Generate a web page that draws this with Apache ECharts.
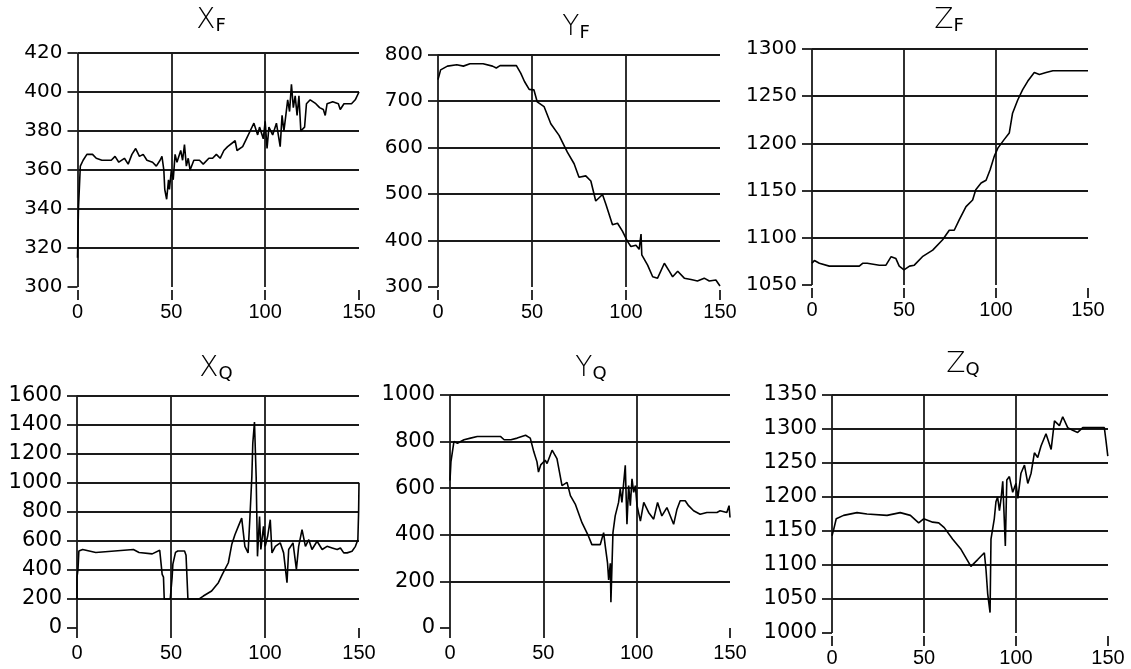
<!DOCTYPE html>
<html>
<head>
<meta charset="utf-8">
<script src="https://cdn.jsdelivr.net/npm/echarts@6/dist/echarts.min.js"></script>
<style>
  html, body { margin: 0; padding: 0; background: #fff; }
  #main { width: 1131px; height: 669px; }
</style>
</head>
<body>
<div id="main"></div>
<script>
// panel data, [t, value]
var XF = [[0,315],[0.5,340],[1,340],[1.5,362],[3,365],[5,368],[8,368],[10,366],[13,365],[18,365],[20,367],[22,364],[25,366],[27,363],[29,368],[31,371],[33,367],[35,368],[37,365],[40,364],[42,362],[44,365],[45,367],[46,360],[46.5,350],[47.5,345],[48.5,355],[49,350],[50,360],[51,355],[52,368],[53,364],[55,370],[56,365],[57,373],[58,362],[59,366],[60,360],[62,365],[65,365],[67,363],[70,366],[72,366],[74,368],[76,366],[78,370],[80,372],[84,375],[85,370],[88,372],[90,376],[92,380],[94,384],[96,378],[97,382],[99,376],[100,385],[101,371],[102,382],[104,378],[106,384],[108,372],[109,388],[110,380],[112,396],[113,390],[114,404],[115,392],[116,398],[117,388],[118,398],[119,380],[121,382],[122,394],[124,396],[127,394],[129,392],[131,391],[132,388],[133,394],[136,395],[139,394],[140,391],[142,394],[146,394],[148,396],[150,400]];
var YF = [[0,746],[1.4,767],[5,775],[10,778],[13.5,775],[17,780],[24,780],[29,775],[31,771],[33,776],[41.7,776],[44,760],[46,742],[48.5,725],[51,724],[52.8,698],[56.4,688],[60,651],[64.4,626],[68.8,590],[72.4,565],[75,536],[78.6,539],[81.3,528],[83.9,485],[85.7,492],[87.5,499],[89.3,478],[92.8,434],[95.5,437],[98.1,420],[100.8,398],[102.6,387],[105.3,390],[107,381],[108,414],[108.4,369],[111.5,347],[114.2,322],[116.8,319],[120.4,351],[123,334],[124.8,322],[127.5,334],[131,319],[134.6,316],[138,313],[141.6,319],[144.3,313],[147.8,315],[150,302]];
var ZF = [[0,1073],[1.3,1076],[4,1073],[9.4,1070],[14.8,1070],[22,1070],[25.7,1070],[27.5,1073],[30,1073],[36.6,1071],[40.2,1071],[43,1080],[45.6,1078],[47.4,1070],[50,1066],[53,1070],[55.6,1071],[60,1080],[65.6,1087],[71,1098],[74.6,1108],[77.3,1108],[80,1119],[83.7,1133],[87.3,1140],[89,1151],[91.9,1158],[94.6,1161],[96.8,1172],[99,1186],[101,1195],[104.4,1204],[107.2,1211],[109,1232],[111.8,1246],[114.5,1257],[117.3,1266],[120.8,1275],[123.6,1273],[127.2,1275],[130.9,1277],[134.5,1277],[150,1277]];
var XQ = [[0,200],[0,350],[0.5,400],[1,530],[3,540],[10,520],[30,540],[33,520],[40,510],[44,535],[45,535],[45.3,369],[46,350],[46.4,200],[49.6,200],[50.6,350],[51,440],[52.4,520],[53.6,530],[57.2,530],[58,500],[59,200],[65,200],[67.2,220],[71.6,255],[75.2,312],[77.3,369],[80.5,449],[82.3,574],[84,642],[85.8,699],[87.6,756],[89.3,562],[91,517],[92,767],[93,1041],[93.5,1270],[94.4,1418],[95.3,1041],[96,493],[97.1,767],[97.8,540],[99.2,699],[100.1,562],[101.4,631],[102.8,745],[103.7,517],[105.5,562],[108.1,586],[109.9,517],[111.7,312],[112.6,540],[114.9,586],[116.7,403],[117.9,562],[119.7,677],[121.5,562],[123.3,608],[125,540],[127.7,597],[130.4,540],[133,562],[135.7,551],[138.4,540],[140.1,551],[141.9,517],[143.7,517],[146.3,528],[148.1,562],[149.4,608],[149.8,802],[150,1000]];
var YQ = [[0,633],[0.5,713],[2.1,800],[4,793],[7.5,808],[11,815],[14.6,822],[27,822],[29,808],[32.6,808],[36,815],[40.5,827],[43,815],[44.9,756],[46.6,713],[47.4,669],[48.6,700],[51,720],[52,706],[54.7,763],[57.3,727],[60,611],[62.7,625],[64.5,568],[67.1,532],[70.7,452],[74.2,394],[76,358],[80.5,358],[82.3,409],[83.2,350],[84.4,278],[85,206],[85.9,278],[86.2,111],[87.3,409],[88.5,481],[90.3,539],[91.2,597],[92.1,539],[93.9,698],[94.8,445],[95.7,611],[96.6,525],[97.5,640],[98.4,582],[99.3,611],[100.2,525],[102,459],[103.8,539],[106.4,496],[109.1,467],[111.2,539],[113.5,481],[116.2,517],[119.8,445],[121.6,510],[123.3,546],[126,546],[127.8,525],[130.5,503],[134,488],[137.6,496],[143,496],[144.7,503],[148.3,496],[149.5,525],[150,474]];
var ZQ = [[0,1143],[0.9,1152],[2.3,1168],[6.3,1173],[13.6,1177],[19,1175],[29.9,1173],[37.1,1177],[42.6,1173],[47.1,1162],[49.8,1168],[54.7,1163],[58,1162],[61,1155],[65.6,1138],[70.1,1123],[75.5,1098],[79.2,1108],[82.8,1118],[83.7,1093],[84.6,1058],[85.9,1030],[86.4,1138],[88.2,1168],[89.1,1193],[90,1200],[91,1180],[91.9,1198],[92.8,1223],[94.2,1128],[95,1225],[96.4,1230],[98.2,1207],[100,1220],[101,1198],[102.7,1235],[104.6,1247],[106.4,1220],[108.2,1235],[110,1265],[111.8,1258],[113.6,1275],[116.3,1293],[119.1,1270],[120.9,1312],[123.6,1305],[125.4,1318],[128.1,1302],[130.8,1298],[133.5,1295],[136.3,1302],[148,1302],[148.9,1283],[149.9,1260]];

var seriesData = [XF, YF, ZF, XQ, YQ, ZQ];
var titleMain = ['X', 'Y', 'Z', 'X', 'Y', 'Z'];
var titleSub = ['F', 'F', 'F', 'Q', 'Q', 'Q'];
var yMin = [300, 300, 1050, 0, 0, 1000];
var yMax = [420, 800, 1300, 1600, 1000, 1350];
var yStep = [20, 100, 50, 200, 200, 50];
var xTicks = [0, 50, 100, 150];

// layout of each panel (pixels)
var boxes = [
  {left: 77.5, top: 53, width: 281.5, height: 234},
  {left: 438, top: 54.5, width: 282, height: 232.5},
  {left: 812, top: 49, width: 276, height: 236},
  {left: 77, top: 395.5, width: 282, height: 232.5},
  {left: 450, top: 395, width: 280, height: 233},
  {left: 832, top: 395, width: 276, height: 238}
];
var titlePos = [[211, 35], [576, 42], [949, 35], [216, 383], [591, 383], [963, 379]];
var yFont = [20, 20, 20, 21, 21, 21];

var lineCol = '#1a1a1a';
var grids = [], xAxes = [], yAxes = [], series = [], graphics = [];

for (var i = 0; i < 6; i++) {
  var b = boxes[i];
  grids.push({left: b.left, top: b.top, width: b.width, height: b.height, containLabel: false});
  xAxes.push({
    type: 'value', gridIndex: i, min: xTicks[0], max: xTicks[xTicks.length - 1], interval: 50,
    offset: 3,
    axisLine: {show: false},
    axisTick: {show: true, length: 10, lineStyle: {color: lineCol, width: 1.8}},
    axisLabel: {color: '#000', fontSize: 20, margin: 12,
      fontFamily: '"Liberation Sans", Arial, sans-serif'},
    splitLine: {show: true, showMinLine: true, showMaxLine: false, lineStyle: {color: lineCol, width: 1.8}}
  });
  yAxes.push({
    type: 'value', gridIndex: i, min: yMin[i], max: yMax[i], interval: yStep[i],
    offset: 2,
    axisLine: {show: false},
    axisTick: {show: true, length: 10, lineStyle: {color: lineCol, width: 1.8}},
    axisLabel: {color: '#000', fontSize: yFont[i], margin: 13, fontFamily: '"DejaVu Sans", sans-serif',
      formatter: function (v) { return String(v); }},
    splitLine: {show: true, showMinLine: false, showMaxLine: true, lineStyle: {color: lineCol, width: 1.8}}
  });
  series.push({
    type: 'line', xAxisIndex: i, yAxisIndex: i, data: seriesData[i],
    showSymbol: false, symbol: 'none',
    lineStyle: {color: '#000', width: 1.6},
    z: 3
  });
  graphics.push({
    type: 'text', x: titlePos[i][0], y: titlePos[i][1],
    style: {
      text: '{a|' + titleMain[i] + '}{b|' + titleSub[i] + '}',
      align: 'center', verticalAlign: 'bottom',
      rich: {
        a: {fontSize: 28, fontWeight: 200, fontFamily: '"DejaVu Sans", sans-serif', fill: '#000', verticalAlign: 'bottom'},
        b: {fontSize: 18, fontFamily: '"DejaVu Sans", sans-serif', fill: '#000', verticalAlign: 'bottom'}
      }
    }
  });
}

var myChart = echarts.init(document.getElementById('main'));
myChart.setOption({
  animation: false,
  backgroundColor: '#fff',
  grid: grids,
  xAxis: xAxes,
  yAxis: yAxes,
  series: series,
  graphic: graphics
});
</script>
</body>
</html>
